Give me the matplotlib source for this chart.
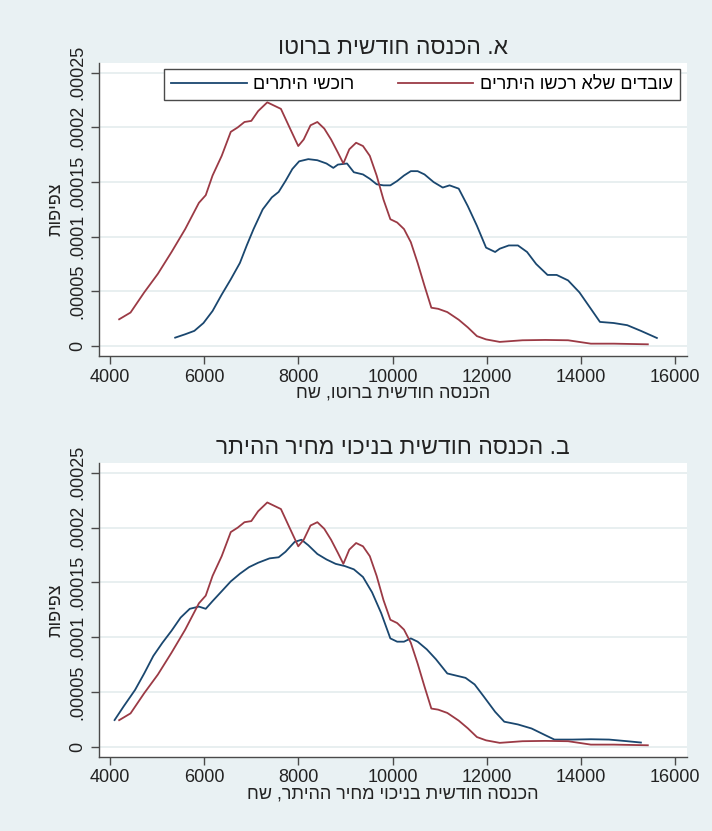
import matplotlib
matplotlib.use("Agg")
import matplotlib.pyplot as plt
from matplotlib.lines import Line2D

plt.rcParams['font.family'] = ['Liberation Sans', 'DejaVu Sans']

# Kernel density estimates of monthly income (NIS)
# Workers who did not buy permits (same in both panels)
red_x = [4194, 4436, 4726, 5016, 5307, 5597, 5888, 6033, 6178, 6372, 6565, 6711, 6856,
         7001, 7146, 7340, 7485, 7630, 7824, 7998, 8114, 8259, 8404, 8550, 8695, 8840,
         8956, 9082, 9227, 9373, 9518, 9663, 9808, 9954, 10099, 10244, 10389, 10534,
         10680, 10825, 10970, 11164, 11406, 11599, 11793, 11987, 12277, 12761, 13245,
         13729, 14213, 14697, 15423]
red_y = [2.44e-5, 3.06e-5, 4.9e-5, 6.6e-5, 8.6e-5, 1.07e-4, 1.31e-4, 1.38e-4, 1.56e-4,
         1.74e-4, 1.96e-4, 2.0e-4, 2.05e-4, 2.06e-4, 2.15e-4, 2.23e-4, 2.2e-4, 2.17e-4,
         1.99e-4, 1.83e-4, 1.89e-4, 2.02e-4, 2.05e-4, 1.99e-4, 1.89e-4, 1.77e-4, 1.67e-4,
         1.80e-4, 1.86e-4, 1.83e-4, 1.74e-4, 1.56e-4, 1.34e-4, 1.16e-4, 1.13e-4, 1.07e-4,
         9.5e-5, 7.6e-5, 5.5e-5, 3.5e-5, 3.4e-5, 3.1e-5, 2.4e-5, 1.7e-5, 9e-6, 6e-6,
         3.7e-6, 5.2e-6, 5.5e-6, 5.2e-6, 2.1e-6, 2.1e-6, 1.5e-6]

# Permit buyers, gross income
blue_gross_x = [5384, 5597, 5791, 5985, 6178, 6372, 6565, 6759, 6904, 7049, 7243, 7437,
                7582, 7727, 7873, 8017, 8211, 8404, 8598, 8743, 8840, 9034, 9179, 9373,
                9518, 9663, 9808, 9954, 10099, 10244, 10389, 10534, 10680, 10873, 11067,
                11212, 11406, 11599, 11793, 11987, 12180, 12277, 12470, 12664, 12858,
                13051, 13293, 13487, 13729, 13971, 14213, 14406, 14697, 14986, 15276, 15615]
blue_gross_y = [7.6e-6, 1.07e-5, 1.38e-5, 2.1e-5, 3.2e-5, 4.7e-5, 6.1e-5, 7.6e-5, 9.2e-5,
                1.07e-4, 1.25e-4, 1.36e-4, 1.41e-4, 1.51e-4, 1.62e-4, 1.69e-4, 1.71e-4,
                1.70e-4, 1.67e-4, 1.63e-4, 1.66e-4, 1.67e-4, 1.59e-4, 1.57e-4, 1.53e-4,
                1.48e-4, 1.47e-4, 1.47e-4, 1.51e-4, 1.56e-4, 1.60e-4, 1.60e-4, 1.57e-4,
                1.50e-4, 1.45e-4, 1.47e-4, 1.44e-4, 1.28e-4, 1.10e-4, 9.0e-5, 8.6e-5,
                8.9e-5, 9.2e-5, 9.2e-5, 8.6e-5, 7.5e-5, 6.5e-5, 6.5e-5, 6.0e-5, 4.9e-5,
                3.4e-5, 2.2e-5, 2.1e-5, 1.9e-5, 1.38e-5, 7.3e-6]

# Permit buyers, income net of permit price
blue_net_x = [4097, 4290, 4532, 4726, 4920, 5113, 5307, 5500, 5694, 5888, 6033, 6178,
              6372, 6565, 6759, 6953, 7146, 7388, 7582, 7727, 7921, 8066, 8211, 8404,
              8598, 8792, 8985, 9179, 9373, 9566, 9760, 9954, 10099, 10244, 10389, 10534,
              10728, 10922, 11164, 11357, 11551, 11744, 11938, 12180, 12374, 12664, 12954,
              13245, 13439, 13826, 14213, 14600, 14986, 15276]
blue_net_y = [2.45e-5, 3.7e-5, 5.2e-5, 6.7e-5, 8.3e-5, 9.5e-5, 1.06e-4, 1.18e-4, 1.26e-4,
              1.28e-4, 1.26e-4, 1.33e-4, 1.42e-4, 1.51e-4, 1.58e-4, 1.64e-4, 1.68e-4,
              1.72e-4, 1.73e-4, 1.78e-4, 1.87e-4, 1.89e-4, 1.84e-4, 1.76e-4, 1.71e-4,
              1.67e-4, 1.65e-4, 1.62e-4, 1.55e-4, 1.41e-4, 1.22e-4, 9.9e-5, 9.6e-5, 9.6e-5,
              9.9e-5, 9.6e-5, 8.9e-5, 8.0e-5, 6.7e-5, 6.5e-5, 6.3e-5, 5.7e-5, 4.6e-5,
              3.2e-5, 2.3e-5, 2.05e-5, 1.68e-5, 1.07e-5, 6.7e-6, 6.7e-6, 7.0e-6, 6.7e-6,
              5.2e-6, 4.0e-6]

x_ticks = [4000, 6000, 8000, 10000, 12000, 14000, 16000]
y_ticks = [0, 0.00005, 0.0001, 0.00015, 0.0002, 0.00025]
y_tick_labels = ["0", ".00005", ".0001", ".00015", ".0002", ".00025"]

title_a = "א. הכנסה חודשית ברוטו"
title_b = "ב. הכנסה חודשית בניכוי מחיר ההיתר"
xlabel_a = "הכנסה חודשית ברוטו, שח"
xlabel_b = "הכנסה חודשית בניכוי מחיר ההיתר, שח"
ylabel = "צפיפות"
label_blue = "רוכשי היתרים"
label_red = "עובדים שלא רכשו היתרים"


def rtl(s):
    # matplotlib lays glyphs out left to right; reverse for visual RTL order
    return s[::-1]


BG = '#e9f1f3'
GRID = '#e4ecee'
AXC = '#4a4a4a'
BLUE = '#1a476f'
RED = '#9b3a45'
TXT = '#222222'

W, H = 712, 831
fig = plt.figure(figsize=(W / 100, H / 100), dpi=100, facecolor=BG)


def px_axes(left, top, right, bottom):
    return fig.add_axes([left / W, 1 - bottom / H, (right - left) / W, (bottom - top) / H])


def style(ax, xlabel):
    ax.set_facecolor('white')
    ax.set_xlim(3766, 16255)
    ax.set_ylim(-0.0000092, 0.000259)
    ax.set_xticks(x_ticks)
    ax.set_xticklabels([str(t) for t in x_ticks], fontsize=13, color=TXT)
    ax.set_yticks(y_ticks)
    ax.set_yticklabels(y_tick_labels, fontsize=13, rotation=90, va='center', color=TXT)
    ax.grid(axis='y', color=GRID, linewidth=1.2)
    ax.set_axisbelow(True)
    for s in ('top', 'right'):
        ax.spines[s].set_visible(False)
    for s in ('left', 'bottom'):
        ax.spines[s].set_color(AXC)
        ax.spines[s].set_linewidth(1.0)
    ax.tick_params(direction='out', length=6, width=1.0, color=AXC, pad=3)
    ax.set_xlabel(rtl(xlabel), fontsize=13, labelpad=-1, color=TXT)
    ax.set_ylabel(rtl(ylabel), fontsize=13, labelpad=4, color=TXT)


# Panel A: gross income
ax1 = px_axes(99, 63, 687, 356)
ax1.plot(blue_gross_x, blue_gross_y, color=BLUE, lw=1.3)
ax1.plot(red_x, red_y, color=RED, lw=1.3)
style(ax1, xlabel_a)
fig.text(393 / W, 1 - 48 / H, rtl(title_a), ha='center', va='center', fontsize=16.5, color=TXT)

handles = [Line2D([], [], color=BLUE, lw=1.3), Line2D([], [], color=RED, lw=1.3)]
leg = ax1.legend(handles, [rtl(label_blue), rtl(label_red)], ncol=2,
                 loc='upper right', bbox_to_anchor=((680 - 99) / 588, (356 - 69) / 293),
                 frameon=True, fancybox=False, edgecolor=AXC, fontsize=13,
                 handlelength=4.2, columnspacing=2.4, handletextpad=0.35,
                 borderpad=0.4, borderaxespad=0)
leg.get_frame().set_linewidth(1.0)
leg.get_frame().set_facecolor('white')
leg.get_frame().set_alpha(1)

# Panel B: income net of permit price
ax2 = px_axes(99, 463, 687, 757)
ax2.plot(blue_net_x, blue_net_y, color=BLUE, lw=1.3)
ax2.plot(red_x, red_y, color=RED, lw=1.3)
style(ax2, xlabel_b)
fig.text(393 / W, 1 - 448 / H, rtl(title_b), ha='center', va='center', fontsize=16.5, color=TXT)

fig.savefig('out.png', dpi=100, facecolor=BG)
